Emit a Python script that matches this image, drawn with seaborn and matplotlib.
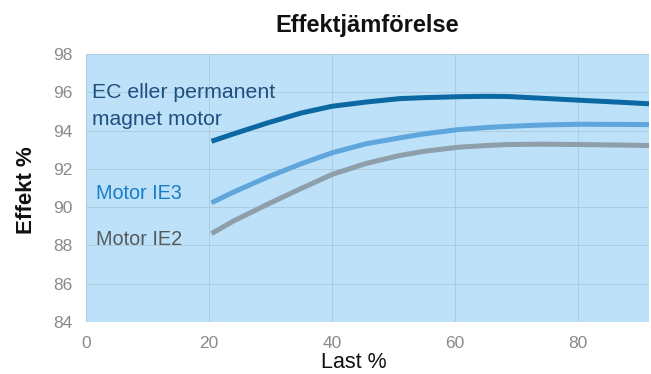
import matplotlib
matplotlib.use("Agg")
import matplotlib.pyplot as plt
import seaborn as sns
import pandas as pd

load = [20.4, 24, 29.5, 35, 40, 45.5, 51, 55, 60.5, 65, 68.5, 74, 80.5, 87.5, 91.5]
ec = [93.44, 93.83, 94.4, 94.92, 95.27, 95.49, 95.67, 95.72, 95.77, 95.79, 95.78, 95.69, 95.58, 95.47, 95.4]
ie3 = [90.23, 90.79, 91.57, 92.27, 92.84, 93.31, 93.62, 93.83, 94.05, 94.16, 94.22, 94.29, 94.33, 94.32, 94.31]
ie2 = [88.62, 89.28, 90.15, 90.98, 91.71, 92.28, 92.7, 92.92, 93.13, 93.22, 93.27, 93.29, 93.27, 93.24, 93.22]
series_names = ["EC eller permanent\nmagnet motor", "Motor IE3", "Motor IE2"]
xticks = [0, 20, 40, 60, 80]
yticks = [84, 86, 88, 90, 92, 94, 96, 98]

df = pd.DataFrame({
    "Last": load * 3,
    "Effekt": ec + ie3 + ie2,
    "Serie": [series_names[0]] * len(load) + [series_names[1]] * len(load) + [series_names[2]] * len(load),
})

sns.set_theme(style="white")
plt.rcParams["font.family"] = ["Liberation Sans", "DejaVu Sans"]

fig = plt.figure(figsize=(6.51, 3.74), dpi=100)
ax = fig.add_axes([0.1321, 0.139, 0.8648, 0.7166])
ax.set_facecolor("#BDE1F8")

colors = {series_names[0]: "#0B68A3", series_names[1]: "#5EA6DC", series_names[2]: "#8E9EAA"}
sns.lineplot(data=df, x="Last", y="Effekt", hue="Serie", palette=colors, linewidth=3.6,
             legend=False, ax=ax, solid_capstyle="butt", solid_joinstyle="round")

ax.set_xlim(0, 91.5)
ax.set_ylim(84, 98)
ax.set_xticks(xticks)
ax.set_yticks(yticks)
ax.grid(True, color="#A9C6D9", linewidth=0.7, alpha=0.8)
for s in ax.spines.values():
    s.set_visible(False)
ax.tick_params(axis="both", length=0, labelsize=12.5, labelcolor="#8A8A8A", pad=10)

ax.set_xlabel("")
ax.set_ylabel("")
fig.text(0.544, 1.0 / 374, "Last %", fontsize=15.5, color="#111111", ha="center", va="bottom")
fig.text(27 / 651, 1 - 190 / 374, "Effekt %", fontsize=16, fontweight="bold", color="#111111",
         ha="center", va="center", rotation=90)
ax.set_title("Effektjämförelse", fontsize=17, fontweight="bold", color="#111111", pad=15.5)

ax.text(1.0, 95.98, "EC eller permanent", fontsize=15.3, color="#1F4F7E", va="center")
ax.text(1.0, 94.57, "magnet motor", fontsize=15.1, color="#1F4F7E", va="center")
ax.text(1.6, 90.72, "Motor IE3", fontsize=14.2, color="#1A7CC4", va="center")
ax.text(1.6, 88.32, "Motor IE2", fontsize=14.3, color="#555A5E", va="center")

fig.savefig("out.png", dpi=100)
